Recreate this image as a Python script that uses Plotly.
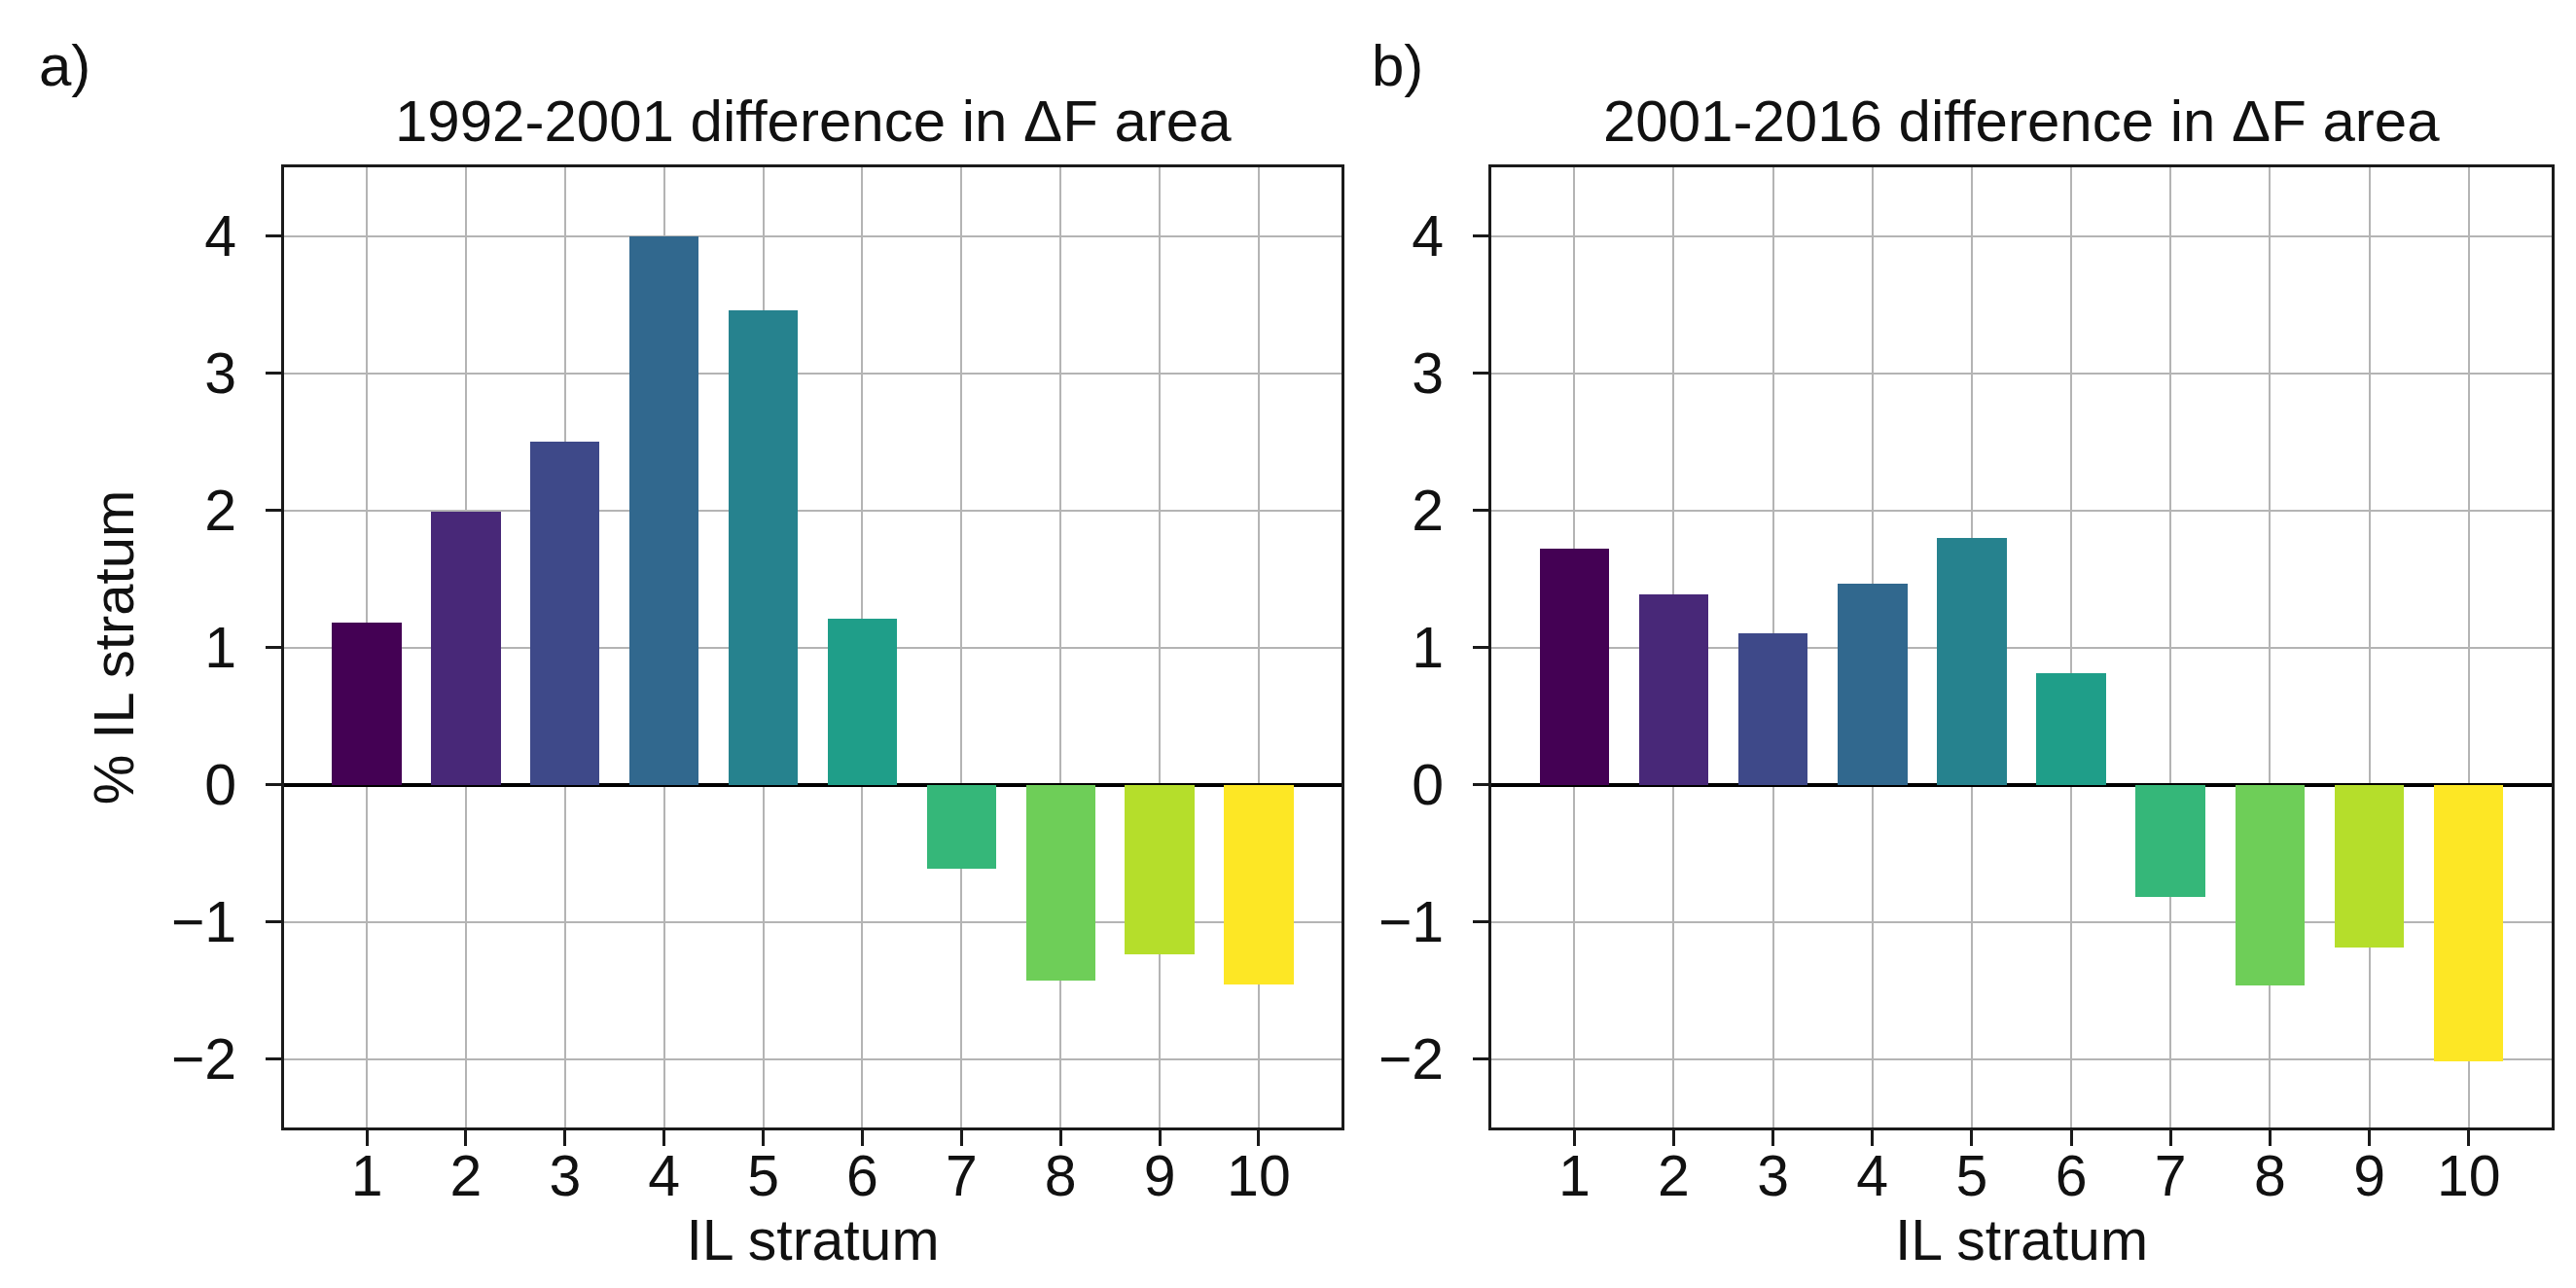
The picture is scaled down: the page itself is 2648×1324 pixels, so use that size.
import plotly.graph_objects as go

strata = [1, 2, 3, 4, 5, 6, 7, 8, 9, 10]
diff_1992_2001 = [1.18, 1.99, 2.50, 4.00, 3.455, 1.21, -0.615, -1.43, -1.24, -1.455]
diff_2001_2016 = [1.72, 1.39, 1.10, 1.465, 1.795, 0.81, -0.82, -1.465, -1.19, -2.02]
bar_colors = ["#440154", "#482878", "#3e4989", "#31688e", "#26828e",
              "#1f9e89", "#35b779", "#6ece58", "#b5de2b", "#fde725"]
titles = ["1992-2001 difference in \u0394F area", "2001-2016 difference in \u0394F area"]
panel_labels = ["a)", "b)"]
y_ticks = [-2, -1, 0, 1, 2, 3, 4]

W, H = 2648, 1324
FONT = "Liberation Sans, Arial, sans-serif"

fig = go.Figure()
fig.add_trace(go.Bar(x=strata, y=diff_1992_2001, width=0.7, marker=dict(color=bar_colors, line=dict(width=0)),
                     xaxis="x", yaxis="y", showlegend=False))
fig.add_trace(go.Bar(x=strata, y=diff_2001_2016, width=0.7, marker=dict(color=bar_colors, line=dict(width=0)),
                     xaxis="x2", yaxis="y2", showlegend=False))

left = (284 / W, 1371 / W)
right = (1525 / W, 2615 / W)
ydom = (1 - 1151 / H, 1 - 164 / H)

axis_common = dict(
    showline=True, linecolor="#1a1a1a", linewidth=3, mirror=True,
    ticks="outside", ticklen=16, tickwidth=2.5, tickcolor="#1a1a1a",
    showgrid=True, gridcolor="#b4b4b4", gridwidth=2.2,
    tickfont=dict(family=FONT, size=59, color="#111111"),
)

xcommon = dict(axis_common, range=[0.165, 10.835], tickmode="array", tickvals=strata,
               ticktext=[str(s) for s in strata], zeroline=False, ticklabelstandoff=-20,
               title=dict(text="IL stratum", font=dict(family=FONT, size=59, color="#111111"), standoff=10))
ycommon = dict(axis_common, range=[-2.5, 4.5], tickmode="array", tickvals=y_ticks,
               zeroline=True, zerolinecolor="#000000", zerolinewidth=4, ticklabelstandoff=18)

fig.update_layout(
    width=W, height=H,
    margin=dict(l=0, r=0, t=0, b=0),
    paper_bgcolor="white", plot_bgcolor="white",
    bargap=0,
    xaxis=dict(xcommon, domain=list(left), anchor="y"),
    yaxis=dict(ycommon, domain=list(ydom), anchor="x",
               title=dict(text="% IL stratum", font=dict(family=FONT, size=58, color="#111111"), standoff=20)),
    xaxis2=dict(xcommon, domain=list(right), anchor="y2"),
    yaxis2=dict(ycommon, domain=list(ydom), anchor="x2"),
)

for dom, t in zip([left, right], titles):
    fig.add_annotation(text=t, x=(dom[0] + dom[1]) / 2, y=1 - 116 / H, xref="paper", yref="paper",
                       xanchor="center", yanchor="middle", showarrow=False,
                       font=dict(family=FONT, size=60, color="#111111"))

for lbl, px in zip(panel_labels, [30, 1400]):
    fig.add_annotation(text=lbl, x=px / W, y=1 - 60 / H, xref="paper", yref="paper",
                       xanchor="left", yanchor="middle", showarrow=False,
                       font=dict(family=FONT, size=60, color="#111111"))

fig.write_html("out.html")
